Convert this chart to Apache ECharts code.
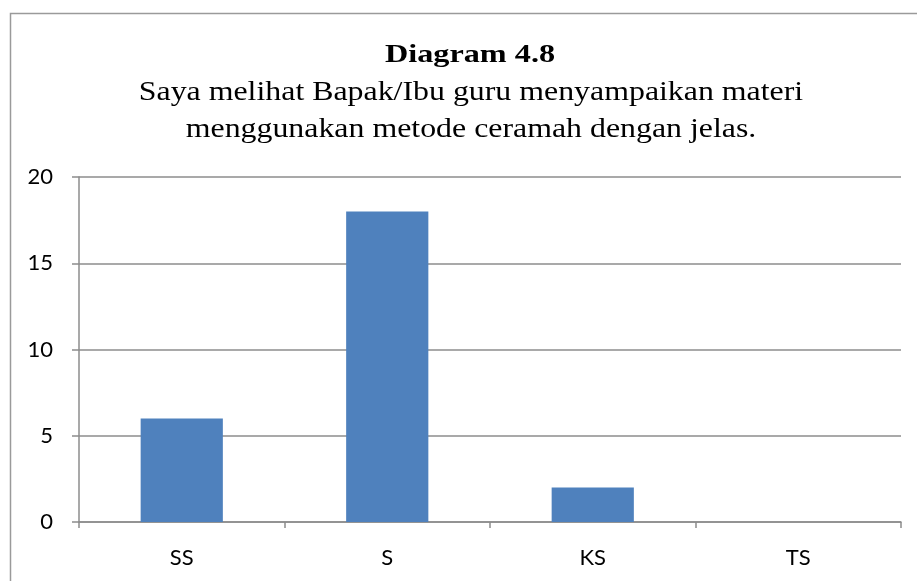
<!DOCTYPE html>
<html>
<head>
<meta charset="utf-8">
<script src="https://cdn.jsdelivr.net/npm/echarts@6/dist/echarts.min.js"></script>
<style>
  html, body { margin: 0; padding: 0; background: #fff; }
  #chart { width: 917px; height: 581px; }
</style>
</head>
<body>
<div id="chart"></div>
<script>
// data
const categories = ['SS', 'S', 'KS', 'TS'];
const counts = [6, 18, 2, 0];
const titleMain = 'Diagram 4.8';
const titleLines = [
  'Saya melihat Bapak/Ibu guru menyampaikan materi',
  'menggunakan metode ceramah dengan jelas.'
];

const chart = echarts.init(document.getElementById('chart'));

const option = {
  backgroundColor: '#fff',
  animation: false,
  graphic: [
    // 外框
    {
      type: 'rect',
      shape: { x: 10.5, y: 13.5, width: 950, height: 620 },
      style: { fill: 'none', stroke: '#9a9a9a', lineWidth: 1.5 }
    },
    // 标题（横向拉宽，接近原图字形）
    {
      type: 'text',
      x: 470,
      y: 42,
      scaleX: 1.24,
      style: {
        text: titleMain,
        textAlign: 'center',
        textVerticalAlign: 'top',
        fontFamily: 'Liberation Serif',
        fontWeight: 'bold',
        fontSize: 26,
        fill: '#000'
      }
    },
    {
      type: 'text',
      x: 471,
      y: 74,
      scaleX: 1.18,
      style: {
        text: titleLines.join('\n'),
        textAlign: 'center',
        textVerticalAlign: 'top',
        fontFamily: 'Liberation Serif',
        fontSize: 27,
        lineHeight: 37,
        fill: '#000'
      }
    }
  ],
  grid: {
    left: 79,
    right: 16,
    top: 177,
    bottom: 59
  },
  xAxis: {
    type: 'category',
    data: categories,
    axisLine: { lineStyle: { color: '#8c8c8c', width: 1.5 } },
    axisTick: { show: true, length: 6, lineStyle: { color: '#8c8c8c', width: 1.5 } },
    axisLabel: {
      fontFamily: 'Lato',
      fontSize: 22,
      color: '#000',
      margin: 25
    }
  },
  yAxis: {
    type: 'value',
    min: 0,
    max: 20,
    interval: 5,
    axisLine: { show: true, lineStyle: { color: '#8c8c8c', width: 1.5 } },
    axisTick: { show: true, length: 7, lineStyle: { color: '#8c8c8c', width: 1.5 } },
    axisLabel: {
      fontFamily: 'Lato',
      fontSize: 22,
      color: '#000',
      margin: 26
    },
    splitLine: { lineStyle: { color: '#8c8c8c', width: 1.5 } }
  },
  series: [
    {
      type: 'bar',
      data: counts,
      barWidth: '40%',
      itemStyle: { color: '#4f81bd' }
    }
  ]
};

chart.setOption(option);
</script>
</body>
</html>
